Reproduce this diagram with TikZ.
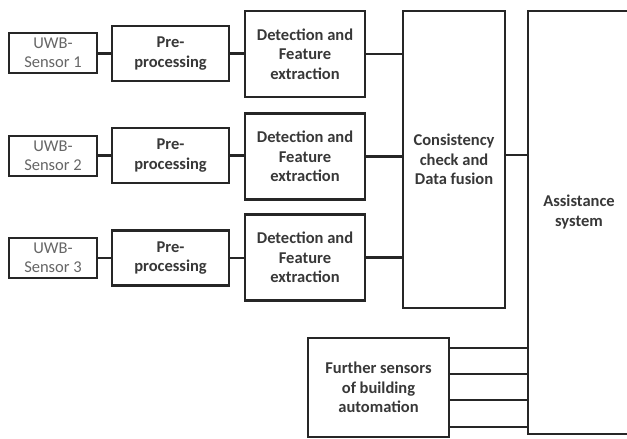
\documentclass[tikz,border=0pt]{standalone}
\usepackage{fontspec}
\setmainfont{Carlito}
\begin{document}
\begin{tikzpicture}[x=1pt,y=-1pt,
  box/.style={draw=black!85, line width=2.2pt, fill=white, align=center, inner sep=0pt,
              text=black!78, font=\fontsize{16.5}{19.5}\selectfont\bfseries},
  sensor/.style={box, line width=2pt, text=black!60, font=\fontsize{16.5}{19.5}\selectfont},
  link/.style={draw=black!85, line width=2.2pt}]
\useasboundingbox (0,0) rectangle (627,439);
% UWB sensors
\node[sensor, minimum width=88pt, minimum height=40pt] (u1) at (53,53) {UWB-\\Sensor 1};
\node[sensor, minimum width=88pt, minimum height=40pt] (u2) at (53,156) {UWB-\\Sensor 2};
\node[sensor, minimum width=88pt, minimum height=40pt] (u3) at (53,258) {UWB-\\Sensor 3};
% pre-processing
\node[box, minimum width=117pt, minimum height=55pt] (p1) at (170.5,53.5) {Pre-\\processing};
\node[box, minimum width=117pt, minimum height=55pt] (p2) at (170.5,155.5) {Pre-\\processing};
\node[box, minimum width=117pt, minimum height=55pt] (p3) at (170.5,258) {Pre-\\processing};
% detection
\node[box, minimum width=120pt, minimum height=86pt] (d1) at (305,54) {Detection and\\Feature\\extraction};
\node[box, minimum width=120pt, minimum height=86pt] (d2) at (305,156.5) {Detection and\\Feature\\extraction};
\node[box, minimum width=120pt, minimum height=86pt] (d3) at (305,257.5) {Detection and\\Feature\\extraction};
% fusion and assistance
\node[box, minimum width=102pt, minimum height=297pt] (cf) at (454,159.5) {Consistency\\check and\\Data fusion};
\node[box, minimum width=112pt, minimum height=423pt] (as) at (584,222.5) {};
\node[font=\fontsize{16.5}{19.5}\selectfont\bfseries, text=black!78, align=center] (ast) at (579,212) {Assistance\\system};
% further sensors
\node[box, minimum width=141pt, minimum height=99pt] (fs) at (378.5,387.5) {Further sensors\\of building\\automation};
% connectors
\foreach \i in {1,2,3} {
  \draw[link] (u\i.east |- p\i) -- (p\i.west);
  \draw[link] (p\i.east) -- (p\i.east -| d\i.west);
  \draw[link] (d\i.east) -- (d\i.east -| cf.west);
}
\coordinate (c0) at (0,155);
\draw[link] (cf.east |- c0) -- (as.west |- c0);
\coordinate (f1) at (0,348);
\coordinate (f2) at (0,374);
\coordinate (f3) at (0,400);
\coordinate (f4) at (0,427);
\foreach \k in {1,2,3,4} {
  \draw[link] (fs.east |- f\k) -- (as.west |- f\k);
}
\end{tikzpicture}
\end{document}
